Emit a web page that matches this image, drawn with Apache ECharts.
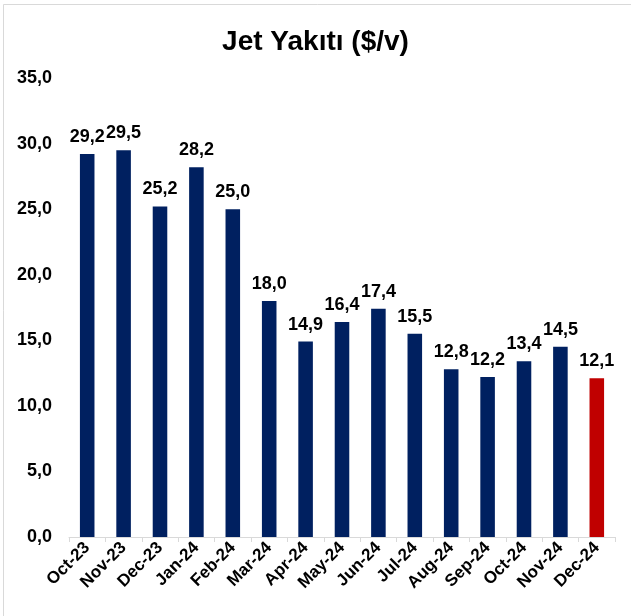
<!DOCTYPE html>
<html><head><meta charset="utf-8">
<script src="https://cdn.jsdelivr.net/npm/echarts@6/dist/echarts.min.js"></script>
<style>html,body{margin:0;padding:0;background:#fff}#c{width:631px;height:616px}</style>
</head><body><div id="c"></div>
<script>
const categories = ['Oct-23','Nov-23','Dec-23','Jan-24','Feb-24','Mar-24','Apr-24','May-24','Jun-24','Jul-24','Aug-24','Sep-24','Oct-24','Nov-24','Dec-24'];
const values = [29.2, 29.5, 25.2, 28.2, 25.0, 18.0, 14.9, 16.4, 17.4, 15.5, 12.8, 12.2, 13.4, 14.5, 12.1];
const yTicks = {min: 0, max: 35, interval: 5};
const fmt = v => Number(v).toFixed(1).replace('.', ',');
const font = '"Liberation Sans", Arial, sans-serif';
const chart = echarts.init(document.getElementById('c'), null, {renderer: 'canvas'});
chart.setOption({
  animation: false,
  backgroundColor: '#fff',
  graphic: [{type: 'rect', shape: {x: 3.5, y: 4.5, width: 700, height: 700}, style: {fill: 'none', stroke: '#d9d9d9', lineWidth: 1}, silent: true}],
  title: {text: 'Jet Yakıtı ($/v)', left: 'center', top: 23, textStyle: {fontFamily: font, fontWeight: 'bold', fontSize: 28, color: '#000'}},
  grid: {left: 69, right: 16, top: 78, bottom: 79, containLabel: false},
  xAxis: {type: 'category', data: categories,
    axisLine: {lineStyle: {color: '#d9d9d9', width: 1}},
    axisTick: {show: true, length: 5, lineStyle: {color: '#d9d9d9'}},
    axisLabel: {rotate: 45, interval: 0, margin: 8, fontFamily: font, fontWeight: 'bold', fontSize: 17, color: '#000'}},
  yAxis: {type: 'value', min: yTicks.min, max: yTicks.max, interval: yTicks.interval,
    splitLine: {show: false}, axisLine: {show: false}, axisTick: {show: false},
    axisLabel: {formatter: fmt, margin: 17, padding: [6, 0, 0, 0], fontFamily: font, fontWeight: 'bold', fontSize: 18, color: '#000'}},
  series: [{type: 'bar', barWidth: '40%',
    data: values.map((v, i) => ({value: v, itemStyle: {color: i === values.length - 1 ? '#C00000' : '#002060'}})),
    label: {show: true, position: 'top', distance: 8, formatter: p => fmt(p.value), fontFamily: font, fontWeight: 'bold', fontSize: 18, color: '#000'}}]
});
</script></body></html>
